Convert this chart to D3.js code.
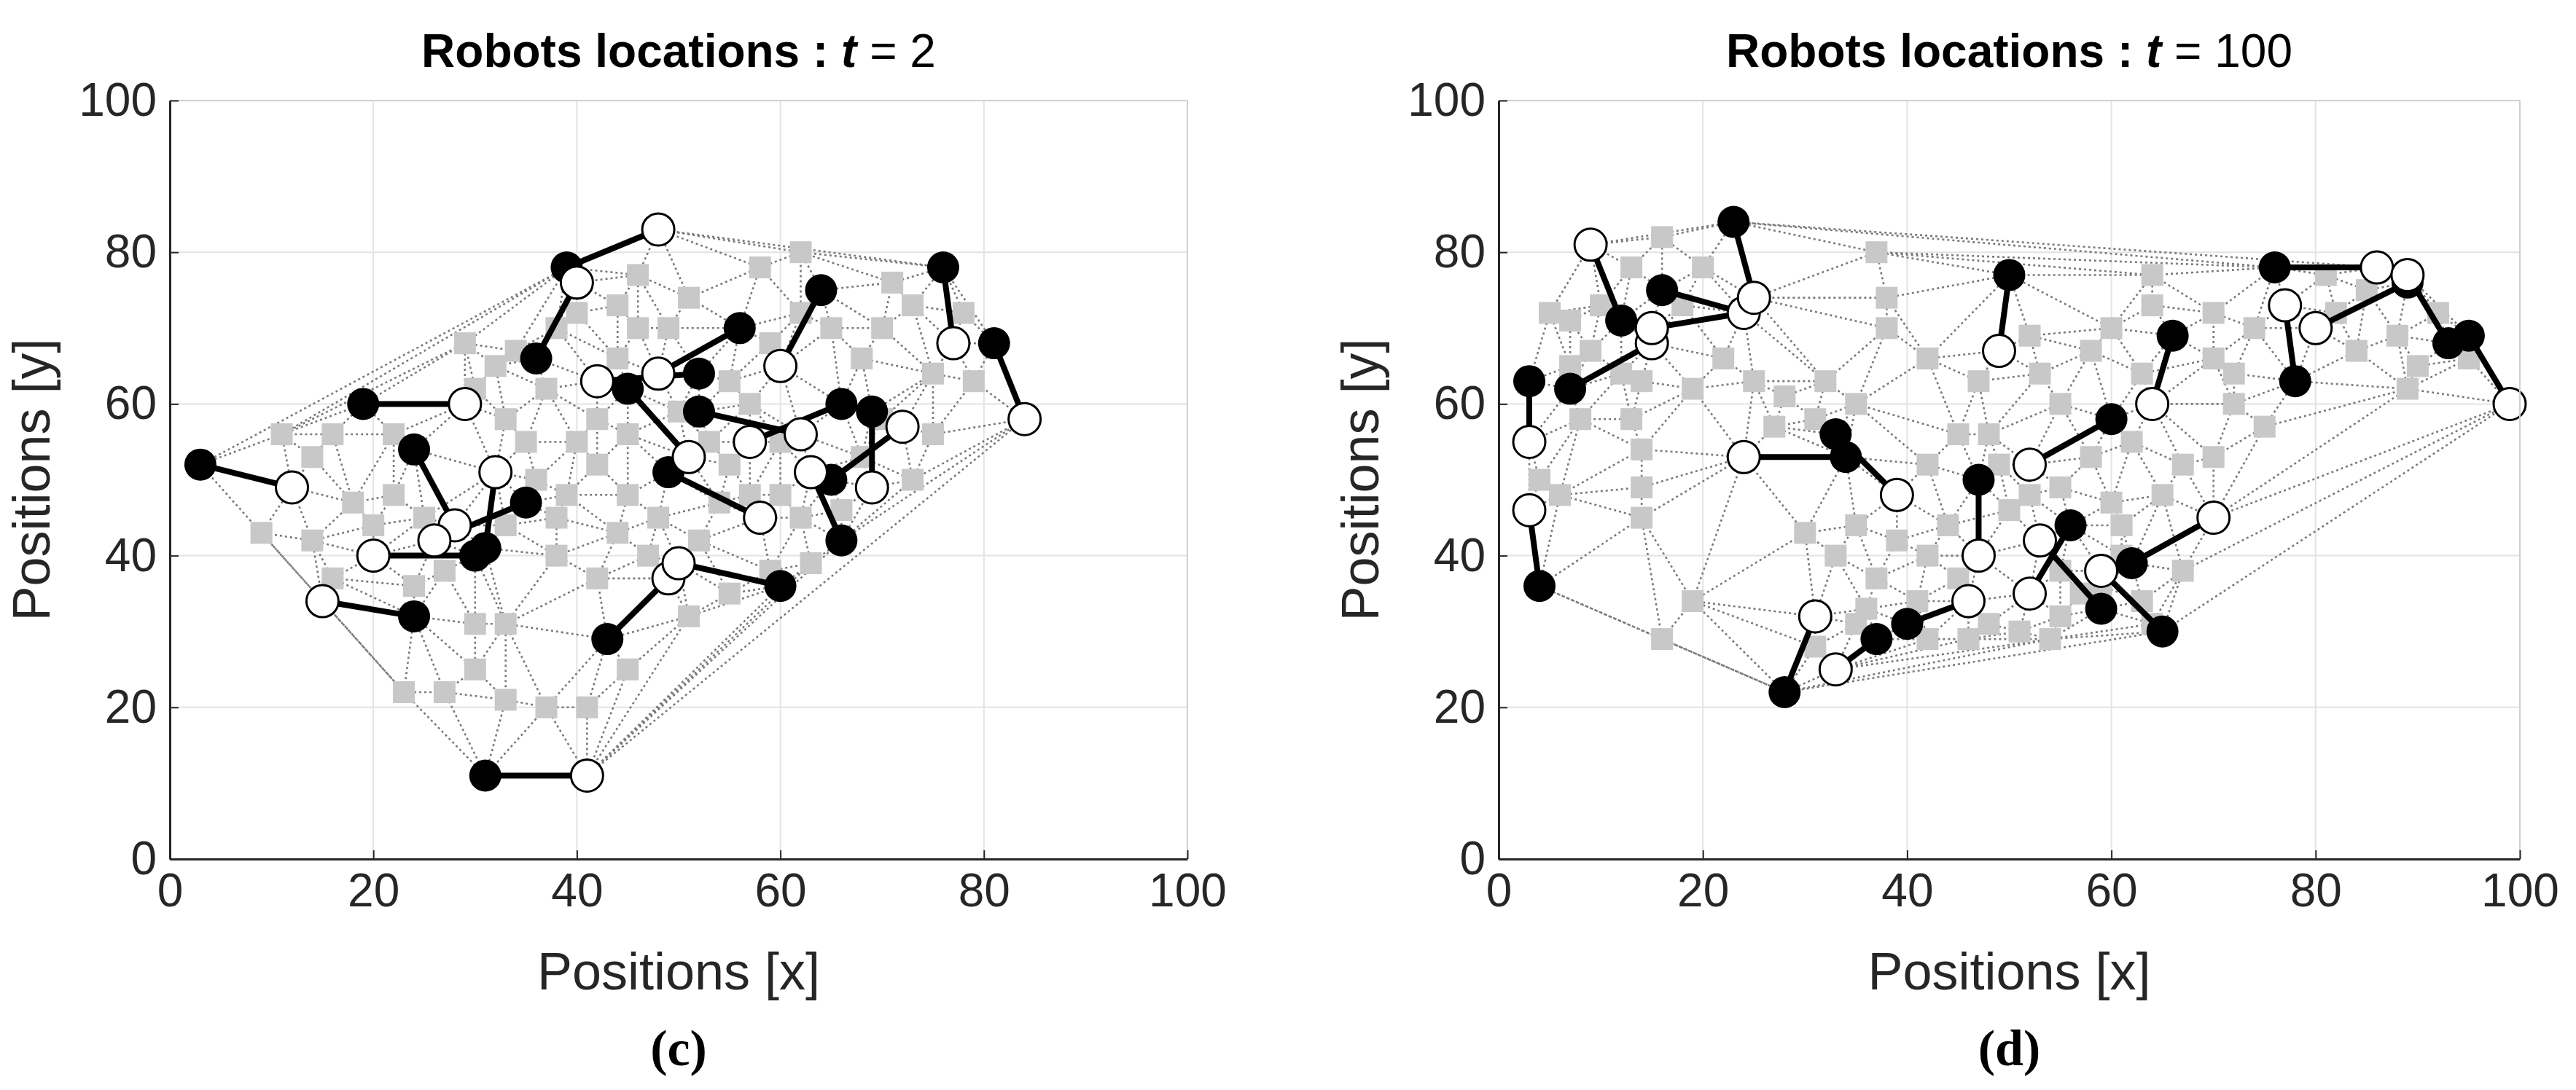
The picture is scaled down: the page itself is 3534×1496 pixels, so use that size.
<!DOCTYPE html>
<html><head><meta charset="utf-8">
<script src="https://cdn.jsdelivr.net/npm/d3@7"></script>
<style>body{margin:0;background:#fff}svg{display:block}</style>
</head><body><div id="chart"></div>
<script>
// Panel (c): robot pairs [black x, black y, white x, white y]
const pairsC = [
  [3,52,12,49],[19,60,29,60],[24,54,28,44],[24,32,15,34],[31,11,41,11],[30,40,20,40],
  [31,41,32,51],[35,47,26,42],[39,78,48,83],[36,66,40,76],[43,29,49,37],[60,36,50,39],
  [45,62,51,53],[49,51,58,45],[56,70,48,64],[52,64,42,63],[64,75,60,65],[52,59,62,56],
  [66,60,57,55],[69,59,69,49],[65,50,72,57],[66,42,63,51],[76,78,77,68],[81,68,84,58]
];
const squaresC = [
  [11,56],[9,43],[14,42],[16,56],[14,53],[18,47],[16,37],[20,44],[22,48],[22,56],[23,22],[27,22],
  [30,25],[30,31],[33,31],[33,21],[37,20],[41,20],[45,25],[51,32],[55,35],[59,38],[63,39],[42,37],
  [38,40],[38,45],[36,50],[35,55],[33,58],[30,62],[29,68],[32,65],[34,67],[38,70],[40,72],[44,73],
  [46,70],[44,66],[42,58],[40,55],[42,52],[45,48],[48,45],[44,43],[47,40],[52,42],[54,47],[55,52],
  [57,60],[55,63],[59,68],[62,72],[62,80],[58,78],[65,70],[68,66],[70,70],[71,76],[73,73],[75,64],
  [79,63],[78,72],[75,56],[70,58],[73,50],[68,53],[60,48],[62,45],[66,46],[51,74],[49,70],[46,77],
  [37,62],[25,45],[27,38],[24,36],[33,44],[39,48],[45,56],[50,59],[53,55],[57,48],[60,55]
];
// Panel (d)
const pairsD = [
  [4,36,3,46],[3,63,3,55],[7,62,15,68],[12,71,9,81],[16,75,24,72],[24,72,15,70],[23,84,25,74],
  [34,53,24,53],[33,56,39,48],[28,22,31,32],[37,29,33,25],[40,31,46,34],[47,50,47,40],
  [50,77,49,67],[56,44,52,35],[60,58,52,52],[59,33,53,42],[65,30,59,38],[62,39,70,45],
  [66,69,64,60],[76,78,86,78],[78,63,77,73],[89,76,80,70],[95,69,99,60],[93,68,89,77]
];
const squaresD = [
  [6,48],[4,50],[5,72],[7,71],[9,67],[10,73],[13,78],[16,82],[18,73],[20,78],[22,66],[19,62],
  [14,63],[12,64],[13,58],[14,54],[14,49],[14,45],[16,29],[19,34],[8,58],[7,65],[25,63],[28,61],
  [27,57],[31,58],[35,60],[37,80],[38,74],[38,70],[32,63],[30,43],[33,40],[35,44],[37,37],[39,42],
  [42,40],[44,44],[45,37],[41,34],[36,33],[31,28],[35,31],[42,29],[46,29],[48,31],[51,30],[54,29],
  [55,32],[57,35],[55,38],[59,36],[61,40],[63,34],[64,31],[50,46],[49,52],[52,48],[55,49],[58,53],
  [60,47],[61,44],[65,48],[67,52],[67,38],[62,55],[63,64],[64,73],[64,77],[70,72],[70,66],[72,64],
  [74,70],[72,60],[70,53],[75,57],[82,72],[84,67],[88,69],[90,65],[92,72],[89,62],[95,66],[81,77],
  [85,75],[47,63],[45,56],[42,66],[42,52],[48,56],[53,64],[55,60],[58,67],[60,70],[52,69]
];
const ticks = [0, 20, 40, 60, 80, 100];
const panels = [
  {pairs: pairsC, squares: squaresC, tval: "2", tag: "(c)", x0: 233, x1: 1629},
  {pairs: pairsD, squares: squaresD, tval: "100", tag: "(d)", x0: 2056, x1: 3457}
];

const W = 3534, H = 1496, yTop = 138, yBot = 1179;
const svg = d3.select("#chart").append("svg").attr("width", W).attr("height", H)
  .style("font-family", "'Liberation Sans', Arial, sans-serif");

panels.forEach(p => {
  const x = d3.scaleLinear().domain([0, 100]).range([p.x0, p.x1]);
  const y = d3.scaleLinear().domain([0, 100]).range([yBot, yTop]);
  const g = svg.append("g");

  // grid
  g.selectAll(".gx").data(ticks).enter().append("line")
    .attr("x1", d => x(d)).attr("x2", d => x(d)).attr("y1", yTop).attr("y2", yBot)
    .attr("stroke", "#e3e3e3").attr("stroke-width", 2);
  g.selectAll(".gy").data(ticks).enter().append("line")
    .attr("y1", d => y(d)).attr("y2", d => y(d)).attr("x1", p.x0).attr("x2", p.x1)
    .attr("stroke", "#e3e3e3").attr("stroke-width", 2);

  // dotted mesh between all points
  const pts = [];
  p.pairs.forEach(d => { pts.push([d[0], d[1]]); pts.push([d[2], d[3]]); });
  p.squares.forEach(d => pts.push(d));
  const del = d3.Delaunay.from(pts, d => x(d[0]), d => y(d[1]));
  g.append("path").attr("d", del.render()).attr("fill", "none")
    .attr("stroke", "#7a7a7a").attr("stroke-width", 2.6).attr("stroke-dasharray", "3,4");

  // squares
  const s = 30;
  g.selectAll(".sq").data(p.squares).enter().append("rect")
    .attr("x", d => x(d[0]) - s / 2).attr("y", d => y(d[1]) - s / 2)
    .attr("width", s).attr("height", s).attr("fill", "#c8c8c8");

  // pair links
  g.selectAll(".link").data(p.pairs).enter().append("line")
    .attr("x1", d => x(d[0])).attr("y1", d => y(d[1]))
    .attr("x2", d => x(d[2])).attr("y2", d => y(d[3]))
    .attr("stroke", "#000").attr("stroke-width", 8);
  g.selectAll(".blk").data(p.pairs).enter().append("circle")
    .attr("cx", d => x(d[0])).attr("cy", d => y(d[1])).attr("r", 22).attr("fill", "#000");
  g.selectAll(".wht").data(p.pairs).enter().append("circle")
    .attr("cx", d => x(d[2])).attr("cy", d => y(d[3])).attr("r", 22)
    .attr("fill", "#fff").attr("stroke", "#000").attr("stroke-width", 3);

  // box top/right
  g.append("line").attr("x1", p.x0).attr("x2", p.x1).attr("y1", yTop).attr("y2", yTop)
    .attr("stroke", "#d0d0d0").attr("stroke-width", 2);
  g.append("line").attr("x1", p.x1).attr("x2", p.x1).attr("y1", yTop).attr("y2", yBot)
    .attr("stroke", "#d0d0d0").attr("stroke-width", 2);

  const xa = g.append("g").attr("transform", `translate(0,${yBot})`)
    .call(d3.axisBottom(x).tickValues(ticks).tickSizeInner(-12).tickSizeOuter(0).tickPadding(20));
  const ya = g.append("g").attr("transform", `translate(${p.x0},0)`)
    .call(d3.axisLeft(y).tickValues(ticks).tickSizeInner(-12).tickSizeOuter(0).tickPadding(18));
  [xa, ya].forEach(a => {
    a.select(".domain").attr("stroke", "#262626").attr("stroke-width", 3);
    a.selectAll("line").attr("stroke", "#262626").attr("stroke-width", 2);
    a.selectAll("text").attr("font-size", 64).attr("fill", "#262626")
      .style("font-family", "'Liberation Sans', Arial, sans-serif");
  });

  const cx = (p.x0 + p.x1) / 2;
  const t = g.append("text").attr("x", cx).attr("y", 92).attr("text-anchor", "middle")
    .attr("font-size", 64).attr("font-weight", "bold").attr("fill", "#000");
  t.append("tspan").text("Robots locations : ");
  t.append("tspan").attr("font-style", "italic").text("t");
  t.append("tspan").attr("font-weight", "normal").text(" = " + p.tval);

  g.append("text").attr("x", cx).attr("y", 1358).attr("text-anchor", "middle")
    .attr("font-size", 72).attr("fill", "#262626").text("Positions [x]");
  g.append("text").attr("transform", `translate(${p.x0 - 165},${(yTop + yBot) / 2}) rotate(-90)`)
    .attr("text-anchor", "middle").attr("font-size", 72).attr("fill", "#262626").text("Positions [y]");
  g.append("text").attr("x", cx).attr("y", 1462).attr("text-anchor", "middle")
    .attr("font-size", 70).attr("font-weight", "bold").attr("fill", "#000")
    .style("font-family", "'Liberation Serif', 'DejaVu Serif', serif").text(p.tag);
});
</script></body></html>
